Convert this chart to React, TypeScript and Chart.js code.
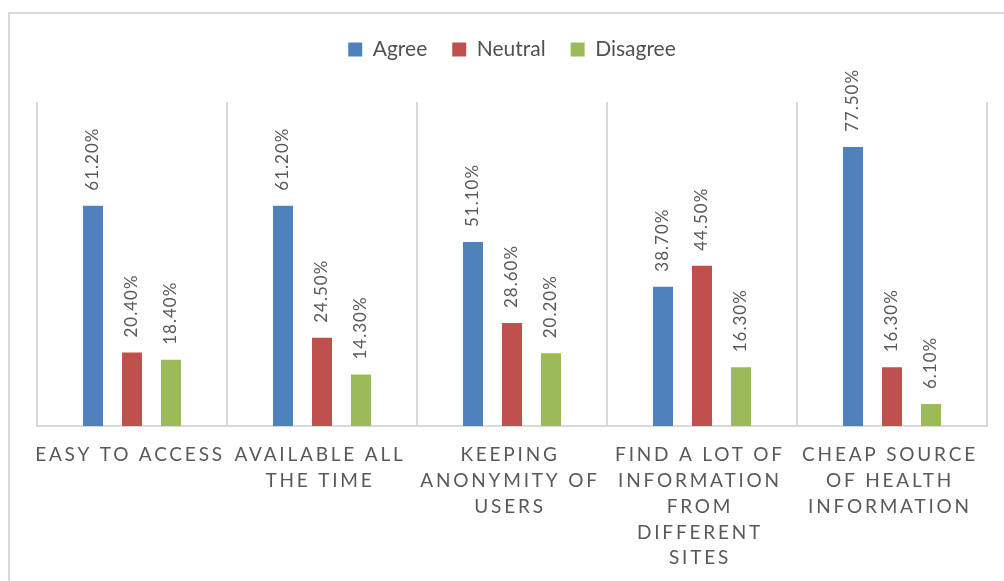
import React, { useEffect, useRef } from 'react';
import { Chart, registerables } from 'chart.js';

Chart.register(...registerables);

const categories: string[][] = [
  ['EASY TO ACCESS'],
  ['AVAILABLE ALL', 'THE TIME'],
  ['KEEPING', 'ANONYMITY OF', 'USERS'],
  ['FIND A LOT OF', 'INFORMATION', 'FROM', 'DIFFERENT', 'SITES'],
  ['CHEAP SOURCE', 'OF HEALTH', 'INFORMATION'],
];
const seriesNames = ['Agree', 'Neutral', 'Disagree'];
const agree = [61.2, 61.2, 51.1, 38.7, 77.5];
const neutral = [20.4, 24.5, 28.6, 44.5, 16.3];
const disagree = [18.4, 14.3, 20.2, 16.3, 6.1];
const seriesColors = ['#4F81BD', '#C0504D', '#9BBB59'];
const yMin = 0;
const yMax = 90;

const FONT = 'Lato, "Open Sans", sans-serif';
const TEXT = '#595959';

const valueLabels = {
  id: 'valueLabels',
  afterDatasetsDraw(chart: any) {
    const ctx = chart.ctx;
    ctx.save();
    ctx.font = `17px ${FONT}`;
    ctx.fillStyle = TEXT;
    ctx.textAlign = 'left';
    ctx.textBaseline = 'middle';
    (ctx as any).letterSpacing = '1px';
    chart.data.datasets.forEach((ds: any, i: number) => {
      const meta = chart.getDatasetMeta(i);
      meta.data.forEach((bar: any, j: number) => {
        const v = ds.data[j] as number;
        ctx.save();
        ctx.translate(bar.x, bar.y - 15);
        ctx.rotate(-Math.PI / 2);
        ctx.fillText(v.toFixed(2) + '%', 0, 0);
        ctx.restore();
      });
    });
    ctx.restore();
  },
};

const xLabels = {
  id: 'xLabels',
  afterDraw(chart: any) {
    const ctx = chart.ctx;
    const scale = chart.scales.x;
    ctx.save();
    ctx.font = `19px ${FONT}`;
    ctx.fillStyle = TEXT;
    ctx.textAlign = 'center';
    ctx.textBaseline = 'middle';
    (ctx as any).letterSpacing = '2.8px';
    categories.forEach((lines, i) => {
      const x = scale.getPixelForValue(i) - 2;
      lines.forEach((line, k) => {
        ctx.fillText(line, x, chart.chartArea.bottom + 29 + k * 25.8);
      });
    });
    ctx.restore();
  },
};

export default function App() {
  const ref = useRef<HTMLCanvasElement>(null);
  useEffect(() => {
    if (!ref.current) return;
    const chart = new Chart(ref.current, {
      type: 'bar',
      data: {
        labels: categories.map((c) => c.join(' ')),
        datasets: [agree, neutral, disagree].map((d, i) => ({
          label: seriesNames[i],
          data: d,
          backgroundColor: seriesColors[i],
          categoryPercentage: 0.616,
          barPercentage: 0.513,
        })),
      },
      options: {
        animation: false,
        responsive: false,
        devicePixelRatio: 1,
        layout: { padding: { top: 0, left: 27, right: 17, bottom: 0 } },
        plugins: {
          legend: {
            display: true,
            position: 'top',
            labels: {
              boxWidth: 14,
              boxHeight: 14,
              padding: 25,
              color: '#505050',
              font: { family: FONT, size: 21 },
            },
          },
          tooltip: { enabled: false },
          title: { display: false },
        },
        scales: {
          x: {
            type: 'category',
            position: 'bottom',
            grid: { display: true, color: '#d9d9d9', lineWidth: 2, drawTicks: false, offset: true },
            border: { display: true, color: '#d9d9d9', width: 2 },
            ticks: { display: false },
            afterFit: (s: any) => {
              s.height = 155;
            },
          },
          xTop: {
            type: 'category',
            position: 'top',
            grid: { display: false },
            border: { display: false },
            ticks: { display: false },
            afterFit: (s: any) => {
              s.height = 32;
            },
          },
          y: {
            display: false,
            min: yMin,
            max: yMax,
          },
        },
      },
      plugins: [valueLabels, xLabels],
    });
    return () => chart.destroy();
  }, []);

  return (
    <div
      style={{
        position: 'fixed',
        left: 8,
        top: 12,
        width: 1030,
        height: 620,
        border: '2px solid #d9d9d9',
        background: '#fff',
      }}
    >
      <canvas ref={ref} width={994} height={567} style={{ display: 'block', width: 994, height: 567 }} />
    </div>
  );
}
